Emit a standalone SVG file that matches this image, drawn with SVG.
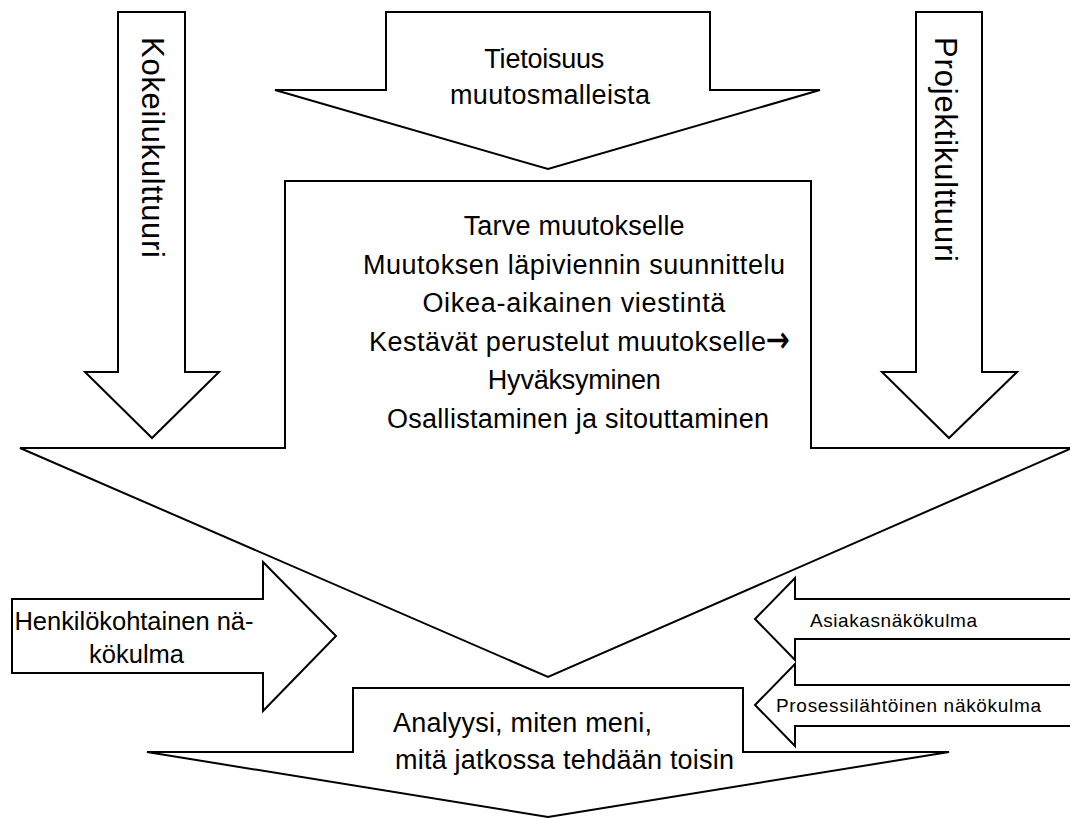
<svg xmlns="http://www.w3.org/2000/svg" width="1070" height="818" viewBox="0 0 1070 818">
  <style>
    .shape { fill: #ffffff; stroke: #000000; stroke-width: 2; stroke-linejoin: miter; }
    .label { font-family: "Liberation Sans", Arial, sans-serif; fill: #000000; }
    .big { font-size: 27px; }
    .mid { font-size: 25.5px; }
    .small { font-size: 19px; }
    .side { font-size: 31px; }
    .glyph-arrow { font-family: "DejaVu Sans", sans-serif; font-size: 36px; stroke: #000000; stroke-width: 0.6; }
  </style>
  <rect x="0" y="0" width="1070" height="818" fill="#ffffff"/>

  <!-- Main change-process block: box with a wide arrowhead pointing down -->
  <g id="muutosprosessi">
    <path class="shape" d="M20,448 L285,448 L285,181 L811,181 L811,448 L1072,448 L548,677 Z"/>
    <text class="label big" text-anchor="middle">
      <tspan x="578" y="235" textLength="221" lengthAdjust="spacing">Tarve muutokselle</tspan>
      <tspan x="578" y="273.5" textLength="422" lengthAdjust="spacing">Muutoksen läpiviennin suunnittelu</tspan>
      <tspan x="578" y="312" textLength="303" lengthAdjust="spacing">Oikea-aikainen viestintä</tspan>
      <tspan x="578" y="389" textLength="173" lengthAdjust="spacing">Hyväksyminen</tspan>
      <tspan x="578" y="427.5" textLength="382" lengthAdjust="spacing">Osallistaminen ja sitouttaminen</tspan>
    </text>
    <text class="label big" x="369" y="350.5" textLength="397" lengthAdjust="spacing">Kestävät perustelut muutokselle</text>
    <text class="label glyph-arrow" transform="translate(766,352) scale(0.78,1)" x="0" y="0">→</text>
  </g>

  <!-- Awareness arrow from the top -->
  <g id="tietoisuus">
    <path class="shape" d="M386,12 L710,12 L710,90 L820,90 L548,169 L275,90 L386,90 Z"/>
    <text class="label big" text-anchor="middle">
      <tspan x="548" y="68" textLength="120" lengthAdjust="spacing">Tietoisuus</tspan>
      <tspan x="550" y="104" textLength="200" lengthAdjust="spacing">muutosmalleista</tspan>
    </text>
  </g>

  <!-- Left vertical arrow -->
  <g id="kokeilukulttuuri">
    <path class="shape" d="M118,12 L185,12 L185,372 L219,372 L152,438 L85,372 L118,372 Z"/>
    <text class="label side" text-anchor="middle" transform="translate(142,147.5) rotate(90)" x="0" y="0" textLength="221" lengthAdjust="spacing">Kokeilukulttuuri</text>
  </g>

  <!-- Right vertical arrow -->
  <g id="projektikulttuuri">
    <path class="shape" d="M916,12 L982,12 L982,372 L1017,372 L949,438 L882,372 L916,372 Z"/>
    <text class="label side" text-anchor="middle" transform="translate(935,149.5) rotate(90)" x="0" y="0" textLength="225" lengthAdjust="spacing">Projektikulttuuri</text>
  </g>

  <!-- Personal viewpoint arrow from the left -->
  <g id="henkilokohtainen">
    <path class="shape" d="M12,599 L263,599 L263,562 L336,636 L263,711 L263,673 L12,673 Z"/>
    <text class="label mid" text-anchor="middle">
      <tspan x="137.5" y="630" textLength="239" lengthAdjust="spacing">Henkilökohtainen nä-</tspan>
      <tspan x="136.5" y="663">kökulma</tspan>
    </text>
  </g>

  <!-- Customer viewpoint arrow from the right -->
  <g id="asiakas">
    <path class="shape" d="M1080,599 L795,599 L795,578 L755,619 L795,660 L795,639 L1080,639 Z"/>
    <text class="label small" x="810" y="627" textLength="167" lengthAdjust="spacing">Asiakasnäkökulma</text>
  </g>

  <!-- Process viewpoint arrow from the right -->
  <g id="prosessi">
    <path class="shape" d="M1080,685 L795,685 L795,664 L755,705 L795,746 L795,726 L1080,726 Z"/>
    <text class="label small" x="776" y="712" textLength="265" lengthAdjust="spacing">Prosessilähtöinen näkökulma</text>
  </g>

  <!-- Final analysis block with arrowhead pointing down -->
  <g id="analyysi">
    <path class="shape" d="M147,752 L353,752 L353,688 L743,688 L743,752 L949,752 L548,817 Z"/>
    <text class="label big">
      <tspan x="393" y="732" textLength="259" lengthAdjust="spacing">Analyysi, miten meni,</tspan>
      <tspan x="395" y="769" textLength="339" lengthAdjust="spacing">mitä jatkossa tehdään toisin</tspan>
    </text>
  </g>

  <!-- Flow is carried by the block arrows themselves; no separate line connectors -->
  <g id="connectors"/>
</svg>
